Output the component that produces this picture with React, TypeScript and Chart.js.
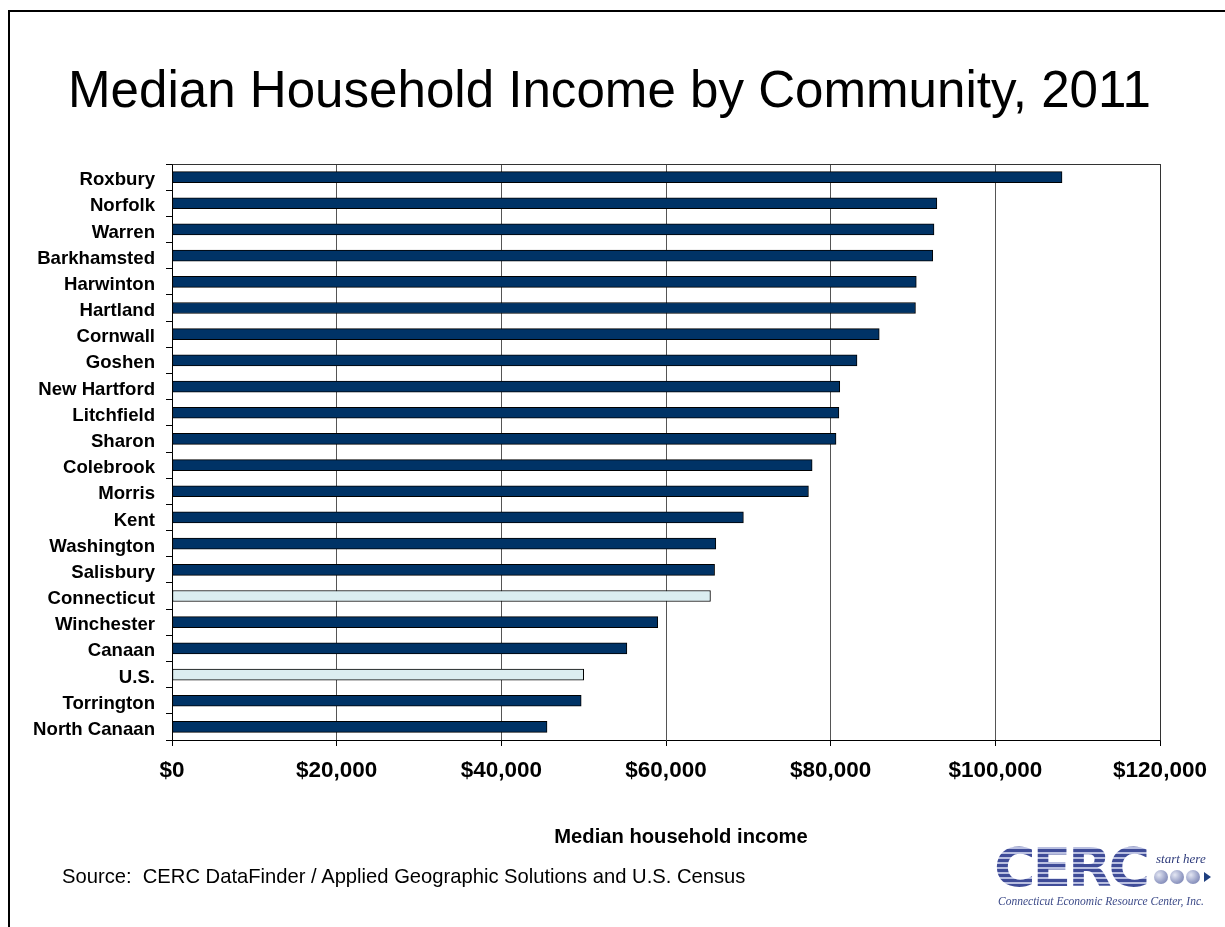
import React, { useEffect, useRef } from "react";
import { Chart, registerables } from "chart.js";

Chart.register(...registerables);

const categories = [
  "Roxbury",
  "Norfolk",
  "Warren",
  "Barkhamsted",
  "Harwinton",
  "Hartland",
  "Cornwall",
  "Goshen",
  "New Hartford",
  "Litchfield",
  "Sharon",
  "Colebrook",
  "Morris",
  "Kent",
  "Washington",
  "Salisbury",
  "Connecticut",
  "Winchester",
  "Canaan",
  "U.S.",
  "Torrington",
  "North Canaan",
];

const incomes = [
  108100, 92900, 92550, 92400, 90400, 90300, 85900, 83200, 81100, 81000, 80650,
  77750, 77300, 69400, 66050, 65900, 65400, 59000, 55250, 50000, 49700, 45550,
];

const benchmarkCategories = ["Connecticut", "U.S."];

const xMin = 0;
const xMax = 120000;
const xStep = 20000;

const titleText = "Median Household Income by Community, 2011";
const xAxisTitle = "Median household income";
const sourceText =
  "Source:  CERC DataFinder / Applied Geographic Solutions and U.S. Census";

const townColor = "#003366";
const benchmarkColor = "#dbedf0";

const W = 1225;
const H = 927;

const plotBorder = {
  id: "plotBorder",
  afterDatasetsDraw(chart: any) {
    const { ctx, chartArea } = chart;
    ctx.save();
    ctx.strokeStyle = "#333333";
    ctx.lineWidth = 1;
    ctx.beginPath();
    const l = Math.round(chartArea.left) + 0.5;
    const t = Math.round(chartArea.top) + 0.5;
    const r = Math.round(chartArea.right) + 0.5;
    const b = Math.round(chartArea.bottom) + 0.5;
    ctx.moveTo(l, t);
    ctx.lineTo(r, t);
    ctx.lineTo(r, b);
    ctx.stroke();
    ctx.restore();
  },
};

function CercLogo() {
  return (
    <div
      style={{
        position: "absolute",
        left: 968,
        top: 845,
        width: 246,
        height: 68,
        background: "#ffffff",
        fontFamily: "'Liberation Serif', 'DejaVu Serif', serif",
      }}
    >
      <div
        style={{
          position: "absolute",
          left: 26,
          top: -6,
          fontFamily: "'DejaVu Sans', sans-serif",
          fontWeight: 700,
          fontSize: 54,
          letterSpacing: -3,
          lineHeight: "58px",
          transform: "scaleX(1.05)",
          transformOrigin: "left top",
          background:
            "repeating-linear-gradient(to bottom, #3f4c98 0px, #3f4c98 3px, #b9bfe0 3px, #b9bfe0 5px)",
          WebkitBackgroundClip: "text",
          backgroundClip: "text",
          color: "transparent",
        }}
      >
        CERC
      </div>
      <div
        style={{
          position: "absolute",
          left: 188,
          top: 6,
          fontStyle: "italic",
          fontSize: 13,
          color: "#2d3a7a",
        }}
      >
        start here
      </div>
      {[0, 1, 2].map((i) => (
        <div
          key={i}
          style={{
            position: "absolute",
            left: 186 + i * 16,
            top: 25,
            width: 14,
            height: 14,
            borderRadius: "50%",
            background:
              "radial-gradient(circle at 35% 35%, #e4e7f3 0%, #9aa2c8 55%, #6a74a8 100%)",
          }}
        />
      ))}
      <div
        style={{
          position: "absolute",
          left: 236,
          top: 27,
          width: 0,
          height: 0,
          borderTop: "5px solid transparent",
          borderBottom: "5px solid transparent",
          borderLeft: "7px solid #1f3f7f",
        }}
      />
      <div
        style={{
          position: "absolute",
          left: 30,
          top: 50,
          fontStyle: "italic",
          fontSize: 11.5,
          color: "#3c4a88",
          whiteSpace: "nowrap",
        }}
      >
        Connecticut Economic Resource Center, Inc.
      </div>
    </div>
  );
}

export default function App() {
  const canvasRef = useRef<HTMLCanvasElement | null>(null);

  useEffect(() => {
    const canvas = canvasRef.current;
    if (!canvas) return;
    const colors = categories.map((c) =>
      benchmarkCategories.includes(c) ? benchmarkColor : townColor
    );
    const chart = new Chart(canvas, {
      type: "bar",
      data: {
        labels: categories,
        datasets: [
          {
            data: incomes,
            backgroundColor: colors,
            borderColor: "#000000",
            borderWidth: 1,
            borderSkipped: false,
            barThickness: 11,
          },
        ],
      },
      options: {
        indexAxis: "y",
        animation: false,
        responsive: false,
        maintainAspectRatio: false,
        devicePixelRatio: 1,
        layout: {
          padding: { left: 0, right: 65, top: 164, bottom: 0 },
        },
        plugins: {
          legend: { display: false },
          tooltip: { enabled: false },
          title: { display: false },
        },
        scales: {
          x: {
            type: "linear",
            min: xMin,
            max: xMax,
            afterFit(scale: any) {
              scale.height = H - 740;
            },
            ticks: {
              stepSize: xStep,
              padding: 11,
              color: "#000000",
              font: {
                family: "'Liberation Sans', Arial, sans-serif",
                size: 22.5,
                weight: "bold",
              },
              callback: (v: any) => "$" + Number(v).toLocaleString("en-US"),
            },
            grid: {
              color: "#555555",
              lineWidth: 1,
              tickLength: 6,
              tickColor: "#000000",
              drawTicks: true,
            },
            border: { color: "#000000", width: 1 },
          },
          y: {
            type: "category",
            afterFit(scale: any) {
              scale.width = 172;
            },
            ticks: {
              padding: 11,
              labelOffset: 3,
              color: "#000000",
              autoSkip: false,
              font: {
                family: "'Liberation Sans', Arial, sans-serif",
                size: 18.6,
                weight: "bold",
              },
            },
            grid: {
              drawOnChartArea: false,
              drawTicks: true,
              tickLength: 6,
              tickColor: "#000000",
              color: "#000000",
              offset: true,
            },
            border: { color: "#000000", width: 1 },
          },
        },
      },
      plugins: [plotBorder],
    });
    return () => chart.destroy();
  }, []);

  return (
    <div
      style={{
        position: "fixed",
        left: 0,
        top: 0,
        width: W,
        height: H,
        overflow: "hidden",
        background: "#ffffff",
      }}
    >
      <div
        style={{
          position: "absolute",
          left: 8,
          top: 10,
          width: 1400,
          height: 1100,
          border: "2px solid #000000",
        }}
      />
      <div
        style={{
          position: "absolute",
          left: 68,
          top: 64,
          fontFamily: "'Liberation Sans', Arial, sans-serif",
          fontSize: 51.1,
          lineHeight: 1,
          color: "#000000",
          whiteSpace: "nowrap",
        }}
      >
        {titleText}
      </div>
      <canvas
        ref={canvasRef}
        width={W}
        height={H}
        style={{ position: "absolute", left: 0, top: 0, width: W, height: H }}
      />
      <div
        style={{
          position: "absolute",
          left: 681,
          top: 826,
          transform: "translateX(-50%)",
          fontFamily: "'Liberation Sans', Arial, sans-serif",
          fontWeight: 700,
          fontSize: 20.2,
          lineHeight: 1,
          color: "#000000",
          whiteSpace: "nowrap",
        }}
      >
        {xAxisTitle}
      </div>
      <div
        style={{
          position: "absolute",
          left: 62,
          top: 866,
          fontFamily: "'Liberation Sans', Arial, sans-serif",
          fontSize: 20.2,
          lineHeight: 1,
          color: "#000000",
          whiteSpace: "pre",
        }}
      >
        {sourceText}
      </div>
      <CercLogo />
    </div>
  );
}
